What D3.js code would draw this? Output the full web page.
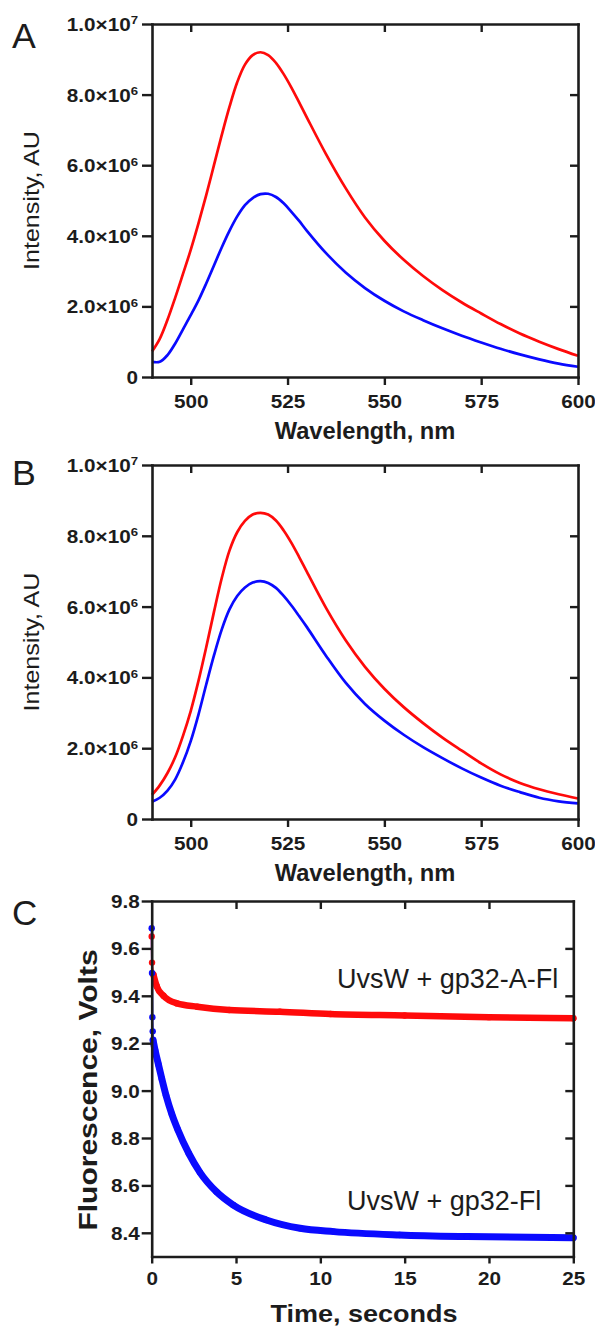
<!DOCTYPE html>
<html><head><meta charset="utf-8">
<script src="https://cdn.jsdelivr.net/npm/d3@7"></script>
<style>
body{margin:0;background:#fff;}
svg{display:block;}
text{font-family:"Liberation Sans",Arial,Helvetica,sans-serif;}
</style>
</head><body>
<svg id="c" width="595" height="1327"></svg>
<script>
// ---------- DATA ----------
const wavelengths = [490,492,494,496,498,500,502,504,506,508,510,512,514,516,518,520,522,524,526,528,530,535,540,545,550,555,560,565,570,575,580,585,590,595,600];
// Panel A (intensity, x 1e6 AU)
const aRed  = [0.72,1.08,1.62,2.25,2.92,3.6,4.35,5.15,6.0,6.85,7.65,8.35,8.85,9.12,9.2,9.12,8.9,8.58,8.2,7.78,7.35,6.3,5.35,4.52,3.86,3.32,2.86,2.46,2.11,1.8,1.5,1.23,1.0,0.79,0.6];
const aBlue = [0.43,0.43,0.62,0.95,1.35,1.75,2.17,2.65,3.16,3.67,4.14,4.55,4.87,5.07,5.18,5.19,5.1,4.92,4.68,4.42,4.14,3.5,2.96,2.52,2.16,1.86,1.61,1.38,1.17,0.98,0.8,0.64,0.5,0.38,0.29];
// Panel B
const bRed  = [0.68,0.95,1.3,1.75,2.35,3.05,3.9,4.85,5.85,6.8,7.58,8.1,8.42,8.6,8.65,8.6,8.43,8.15,7.8,7.4,6.98,5.95,5.05,4.3,3.68,3.16,2.71,2.3,1.93,1.57,1.26,1.02,0.84,0.7,0.58];
const bBlue = [0.49,0.6,0.8,1.12,1.6,2.2,2.95,3.8,4.62,5.35,5.92,6.3,6.54,6.68,6.72,6.67,6.53,6.3,6.03,5.73,5.42,4.6,3.85,3.25,2.78,2.38,2.03,1.72,1.43,1.17,0.94,0.76,0.6,0.5,0.44];
// Panel C (fluorescence, volts)
const cRedTime  = [0,0.02,0.1,0.3,0.7,1.5,2.7,4.6,7.6,10.6,15,20,25];
const cRedVolts = [9.65,9.54,9.49,9.44,9.40,9.368,9.354,9.340,9.333,9.323,9.317,9.310,9.305];
const cBlueTime  = [0,0.02,0.04,0.06,0.08,0.2,0.4,0.6,0.85,1.2,1.55,2.2,2.86,3.84,4.84,6.8,8.8,10.8,14.7,18.7,25];
const cBlueVolts = [9.685,9.496,9.31,9.25,9.213,9.17,9.11,9.05,8.98,8.9,8.835,8.735,8.655,8.573,8.517,8.454,8.419,8.405,8.391,8.384,8.379];
// Ticks
const specXTicks = [500,525,550,575,600];
const specXTopTicks = [500,525,550,575];
const specYTicks = [0,2e6,4e6,6e6,8e6,1e7];
const specYMant  = ["0","2.0\u00d710","4.0\u00d710","6.0\u00d710","8.0\u00d710","1.0\u00d710"];
const specYExp   = ["","6","6","6","6","7"];
const specYRightTicks = [2e6,4e6,6e6,8e6];
const timeTicks = [0,5,10,15,20,25];
const timeTopTicks = [5,10,15,20];
const voltTicks = [8.4,8.6,8.8,9.0,9.2,9.4,9.6,9.8];
const voltRightTicks = [8.4,8.6,8.8,9.0,9.2,9.4,9.6];
const labels = {
  letters: ["A","B","C"],
  spectX: "Wavelength, nm",
  spectY: "Intensity, AU",
  timeX: "Time, seconds",
  voltY: "Fluorescence, Volts",
  red: "UvsW + gp32-A-Fl",
  blue: "UvsW + gp32-Fl"
};

// ---------- DRAW ----------
const svg = d3.select("#c");
const INK = "#1c1c1c", RED = "#ff0a0a", BLUE = "#0a0aff";
const SX = 1.15;
const FONT = '"Liberation Sans",Arial,Helvetica,sans-serif';

function styleAxis(g) {
  g.attr("font-family", FONT).attr("font-size", 18).attr("font-weight", "bold");
  g.select(".domain").attr("stroke", INK).attr("stroke-width", 2.6).attr("stroke-linecap", "square");
  g.selectAll(".tick line").attr("stroke", INK).attr("stroke-width", 2.4);
  g.selectAll(".tick text").attr("fill", INK);
}

function stretchedText(parent, x, y, str, o) {
  return parent.append("text")
    .attr("transform", `translate(${x},${y}) rotate(${o.rot||0}) scale(${o.sx||1},1)`)
    .attr("text-anchor", o.anchor || "middle")
    .attr("font-size", o.size)
    .attr("font-weight", o.weight || "normal")
    .attr("fill", INK)
    .text(str);
}

function spectrumPanel(top, bottom, red, blue, letter, letterY) {
  const L = 152, R = 578;
  const x = d3.scaleLinear().domain([490,600]).range([L,R]);
  const y = d3.scaleLinear().domain([0,1e7]).range([bottom, top]);
  const g = svg.append("g");
  const line = d3.line()
    .x((d,i) => x(wavelengths[i]))
    .y(d => y(d*1e6))
    .curve(d3.curveCatmullRom.alpha(0.5));
  g.append("path").datum(red).attr("d", line).attr("fill","none").attr("stroke", RED).attr("stroke-width", 2.7);
  g.append("path").datum(blue).attr("d", line).attr("fill","none").attr("stroke", BLUE).attr("stroke-width", 2.7);

  const top_ = g.append("g").attr("transform", `translate(0,${top})`)
    .call(d3.axisTop(x).tickValues(specXTopTicks).tickSize(-8).tickSizeOuter(0).tickFormat(""));
  styleAxis(top_);
  const right = g.append("g").attr("transform", `translate(${R},0)`)
    .call(d3.axisRight(y).tickValues(specYRightTicks).tickSize(-8).tickSizeOuter(0).tickFormat(""));
  styleAxis(right);
  const bot = g.append("g").attr("transform", `translate(0,${bottom})`)
    .call(d3.axisBottom(x).tickValues(specXTicks).tickSize(8).tickSizeOuter(0).tickPadding(10).tickFormat(d3.format("d")));
  styleAxis(bot);
  bot.selectAll(".tick text").attr("transform", `scale(${SX},1)`);
  const left = g.append("g").attr("transform", `translate(${L},0)`)
    .call(d3.axisLeft(y).tickValues(specYTicks).tickSize(10).tickSizeOuter(0).tickPadding(3));
  styleAxis(left);
  left.selectAll(".tick text").each(function(d,i){
    const t = d3.select(this);
    t.text(null);
    t.append("tspan").text(specYMant[i]);
    if (specYExp[i]) t.append("tspan").attr("font-size", 11.5).attr("dy", -6.5).text(specYExp[i]);
  }).attr("x", -14/SX).attr("dy", "0.36em").attr("transform", `scale(${SX},1)`);

  stretchedText(g, (L+R)/2, bottom + 62, labels.spectX, {size: 23, weight: "bold", sx: 1.03});
  stretchedText(g, 39, (top+bottom)/2, labels.spectY, {size: 22, weight: "normal", sx: 1.14, rot: -90});
  stretchedText(g, 12, letterY, letter, {size: 35, anchor: "start", sx: 1.02});
}

spectrumPanel(24, 377, aRed, aBlue, labels.letters[0], 48);
spectrumPanel(465, 819, bRed, bBlue, labels.letters[1], 485);

// Panel C
(function(){
  const L = 151.7, R = 573.3, top = 901, bottom = 1256.5;
  const x = d3.scaleLinear().domain([0,25]).range([L,R]);
  const y = d3.scaleLinear().domain([8.3,9.8]).range([bottom, top]);
  const g = svg.append("g");
  const line = d3.line().x(d => x(d[0])).y(d => y(d[1])).curve(d3.curveMonotoneX);
  const redPts = cRedTime.map((t,i) => [t, cRedVolts[i]]);
  const bluePts = cBlueTime.map((t,i) => [t, cBlueVolts[i]]);
  // sparse initial readings are joined by a thin trace; the dense record forms a thick band
  [[redPts, RED, 2, 6.5],[bluePts, BLUE, 4, 7]].forEach(([pts, col, denseFrom, w]) => {
    g.append("path").datum(pts).attr("d", line).attr("fill","none").attr("stroke", col).attr("stroke-width", 2);
    g.append("path").datum(pts.slice(denseFrom)).attr("d", line).attr("fill","none").attr("stroke", col)
      .attr("stroke-width", w).attr("stroke-linecap","round");
    g.selectAll(null).data(pts).enter().append("circle")
      .attr("cx", d => x(d[0])).attr("cy", d => y(d[1])).attr("r", 3.2).attr("fill", col);
  });

  const top_ = g.append("g").attr("transform", `translate(0,${top})`)
    .call(d3.axisTop(x).tickValues(timeTopTicks).tickSize(-8).tickSizeOuter(0).tickFormat(""));
  styleAxis(top_);
  const right = g.append("g").attr("transform", `translate(${R},0)`)
    .call(d3.axisRight(y).tickValues(voltRightTicks).tickSize(-8).tickSizeOuter(0).tickFormat(""));
  styleAxis(right);
  const bot = g.append("g").attr("transform", `translate(0,${bottom})`)
    .call(d3.axisBottom(x).tickValues(timeTicks).tickSize(7).tickSizeOuter(0).tickPadding(9).tickFormat(d3.format("d")));
  styleAxis(bot);
  bot.selectAll(".tick text").attr("transform", `scale(${SX},1)`);
  const left = g.append("g").attr("transform", `translate(${L},0)`)
    .call(d3.axisLeft(y).tickValues(voltTicks).tickSize(10).tickSizeOuter(0).tickPadding(2).tickFormat(d3.format(".1f")));
  styleAxis(left);
  left.selectAll(".tick text").attr("x", -12/SX).attr("dy", "0.36em").attr("transform", `scale(${SX},1)`);

  stretchedText(g, 364, 1322, labels.timeX, {size: 23.5, weight: "bold", sx: 1.15});
  stretchedText(g, 97, 1090, labels.voltY, {size: 25, weight: "bold", sx: 1.2, rot: -90});
  stretchedText(g, 12, 925, labels.letters[2], {size: 35, anchor: "start", sx: 1.0});
  stretchedText(g, 337, 988, labels.red, {size: 27, anchor: "start", sx: 1.0});
  stretchedText(g, 347, 1210, labels.blue, {size: 27, anchor: "start", sx: 1.0});
})();
</script>
</body></html>
